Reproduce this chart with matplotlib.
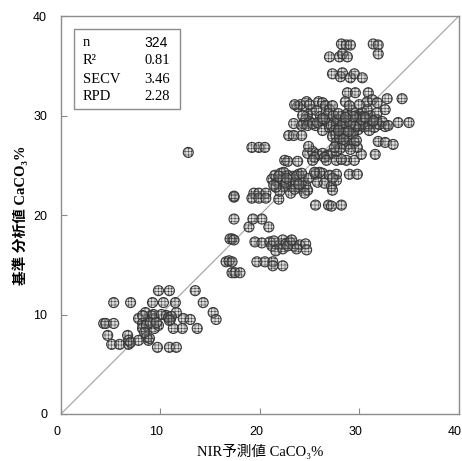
import matplotlib
matplotlib.use("Agg")
import matplotlib.pyplot as plt
from matplotlib.patches import Rectangle
from matplotlib.transforms import ScaledTranslation

plt.rcParams['font.family'] = ['Liberation Serif', 'Noto Sans CJK JP', 'DejaVu Sans']
plt.rcParams['hatch.color'] = '#a8a8a8'
plt.rcParams['hatch.linewidth'] = 0.35

# NIR predicted vs. reference CaCO3 (%), read cluster by cluster
low_x = [4.3, 4.5, 5.3, 4.7, 5.1, 5.9, 6.8, 6.7, 6.8, 7.0,
         5.3, 7.0, 9.2, 10.3, 11.5, 14.3, 9.8, 10.9, 13.5,
         15.3, 15.6, 9.7, 10.9, 11.6,
         7.8, 8.2, 8.2, 8.6, 7.8, 8.8, 8.9, 9.1, 9.4, 9.4, 9.8, 8.6,
         10.6, 11.0, 11.6, 11.3, 12.2, 13.7, 12.3, 13.0, 8.5, 8.2,
         9.3, 10.1, 10.8, 9.0, 11.1, 9.6, 10.9, 8.4]
low_y = [9.1, 9.1, 9.1, 7.9, 7.0, 7.0, 7.0, 7.9, 7.4, 7.2,
         11.2, 11.2, 11.2, 11.2, 11.2, 11.2, 12.4, 12.4, 12.4,
         10.2, 9.5, 6.7, 6.7, 6.7,
         9.6, 9.1, 8.6, 7.7, 7.4, 7.4, 7.6, 9.9, 9.6, 8.6, 8.9, 8.9,
         9.9, 9.5, 10.2, 8.6, 8.6, 8.6, 9.6, 9.5, 10.2, 9.9,
         10.0, 10.0, 9.7, 9.2, 9.8, 9.2, 9.4, 8.2]

mid_x = [12.8, 17.4, 17.4, 17.2, 17.0, 17.4,
         16.6, 16.9, 17.2, 17.2, 17.5, 18.0,
         18.9, 19.3, 20.2, 20.9,
         19.5, 20.2, 21.0, 21.2, 22.0, 22.3, 22.6, 23.0, 23.4, 24.0,
         24.6, 21.6, 22.3, 23.7, 24.7, 22.8, 23.2, 21.4,
         19.7, 20.5, 21.3, 21.3, 22.3,
         17.4, 19.4, 19.9, 20.6, 19.2, 19.9, 20.6, 21.9,
         25.6, 26.9, 28.2, 27.2,
         19.2, 19.9, 20.5]
mid_y = [26.3, 21.8, 19.6, 17.6, 17.6, 17.5,
         15.3, 15.4, 15.3, 14.2, 14.2, 14.2,
         18.8, 19.6, 19.6, 18.8,
         17.3, 17.2, 17.3, 16.9, 17.0, 17.5, 17.1, 17.3, 16.9, 17.0,
         17.1, 16.4, 16.6, 16.6, 16.5, 16.9, 17.5, 17.4,
         15.3, 15.3, 15.3, 14.9, 14.9,
         21.9, 22.2, 22.2, 22.2, 21.7, 21.7, 21.7, 21.6,
         21.0, 21.0, 21.0, 20.9,
         26.8, 26.8, 26.8]

band_x = [21.2, 21.5, 21.8, 22.1, 22.3, 22.5, 22.8, 23.0, 23.2, 23.4,
          23.6, 23.9, 24.1, 24.3, 24.6, 24.8, 22.0, 23.1, 24.5, 21.6,
          22.6, 23.7, 22.4, 24.9, 21.9, 23.5, 22.7, 23.9, 21.4, 24.2,
          25.6, 26.3, 27.0, 27.7, 25.8, 26.5, 27.2, 27.7, 27.3, 27.3,
          29.0, 29.8, 22.5, 22.8, 23.8,
          24.8, 25.3, 25.8, 26.3, 26.8, 27.2, 27.7, 25.5, 26.5, 25.3,
          26.7, 27.7, 28.7, 29.5, 28.2, 30.2, 31.6, 24.9, 26.0, 25.5]
band_y = [23.6, 24.0, 23.3, 24.2, 23.6, 22.9, 24.0, 23.5, 22.9, 23.9,
          23.3, 24.1, 22.7, 23.5, 23.0, 22.5, 22.4, 22.2, 22.2, 22.8,
          23.3, 23.9, 24.3, 23.7, 23.9, 22.6, 23.7, 23.1, 23.0, 24.2,
          24.1, 24.2, 24.0, 24.1, 23.3, 23.2, 22.9, 23.5, 22.5, 23.7,
          24.1, 24.1, 25.5, 25.4, 25.4,
          26.2, 26.4, 26.1, 26.2, 26.0, 26.2, 26.4, 25.8, 25.8, 25.5,
          25.5, 25.5, 25.5, 25.5, 25.6, 26.1, 26.1, 26.9, 24.3, 24.3]

upper_x = [22.9, 23.4, 24.2, 23.4, 24.4, 23.8, 24.1, 24.8, 25.2, 25.0,
           25.6, 26.2, 25.9, 26.3, 26.6, 27.0, 27.3, 25.7, 26.1, 26.9,
           27.4, 24.6, 26.5, 27.8, 24.7, 25.0, 24.3, 24.2, 24.8, 25.3,
           25.8, 26.3, 26.3, 27.0, 27.7, 23.5,
           27.2, 27.5, 27.8, 28.0, 28.2, 28.4, 28.6, 28.8, 29.0, 29.2,
           29.4, 29.5, 29.7, 29.9, 30.1, 30.3, 30.5, 30.7, 30.9, 31.1,
           31.3, 31.5, 31.7, 32.0, 32.3, 32.6, 28.1, 29.8, 30.0, 28.9,
           31.0, 30.4, 29.3, 28.5, 32.9, 31.8, 27.6, 30.8, 29.6, 28.7,
           28.3, 29.1, 30.2, 31.4, 27.9, 30.6, 29.4, 28.6,
           33.9, 35.0,
           27.3, 27.7, 28.0, 28.3, 28.5, 28.7, 29.0, 29.3, 29.5, 29.8,
           28.1, 27.5, 29.1, 28.9, 27.9, 28.4, 29.7,
           31.9, 32.6, 33.4]
upper_y = [28.0, 28.0, 28.0, 29.2, 29.2, 30.9, 31.1, 30.1, 30.6, 29.4,
           29.0, 29.5, 31.4, 31.3, 31.0, 30.6, 31.0, 30.5, 29.9, 30.2,
           30.0, 29.6, 29.6, 29.4, 31.4, 31.1, 30.0, 29.0, 29.0, 29.2,
           29.3, 29.7, 28.5, 28.8, 29.2, 31.1,
           29.0, 28.5, 29.6, 28.8, 29.9, 28.3, 29.3, 30.2, 28.7, 29.6,
           28.2, 29.1, 30.0, 28.6, 29.4, 30.3, 28.9, 29.7, 29.0, 30.0,
           29.3, 28.8, 29.6, 29.1, 29.4, 28.9, 28.0, 29.8, 29.0, 29.5,
           28.5, 29.9, 30.5, 28.6, 29.0, 30.3, 28.1, 30.6, 28.9, 27.9,
           29.1, 29.2, 29.6, 29.5, 30.2, 29.8, 29.9, 29.8,
           29.3, 29.3,
           27.9, 27.3, 27.8, 27.2, 28.3, 27.0, 27.6, 28.1, 27.3, 26.8,
           26.7, 26.8, 26.6, 28.4, 28.5, 27.6, 27.5,
           27.4, 27.3, 27.1]

top_x = [28.2, 28.7, 29.1, 31.4, 31.9, 31.9,
         27.0, 28.0, 28.3, 28.8,
         27.3, 28.1, 28.3, 29.1, 29.5, 30.3,
         28.8, 29.6, 30.9,
         28.6, 30.8, 31.3, 31.8, 32.8, 34.3, 32.6, 29.0, 30.0]
top_y = [37.2, 37.1, 37.1, 37.2, 37.1, 36.2,
         35.9, 35.9, 36.2, 35.9,
         34.2, 33.9, 34.3, 33.8, 34.2, 33.8,
         32.3, 32.3, 32.3,
         31.4, 31.4, 31.6, 31.3, 31.7, 31.7, 30.6, 31.0, 31.1]

nir = low_x + mid_x + band_x + upper_x + top_x
ref = low_y + mid_y + band_y + upper_y + top_y

stat_names = ['n', 'R²', 'SECV', 'RPD']
stat_values = ['324', '0.81', '3.46', '2.28']

fig = plt.figure(figsize=(4.62, 4.61), dpi=100)
ax = fig.add_axes([0.132, 0.102, 0.861, 0.863])

ax.plot([0, 40], [0, 40], color='#a0a0a0', lw=0.8, zorder=1)
ax.scatter(nir, ref, s=52, facecolors=(0.62, 0.62, 0.62, 0.38),
           edgecolors='#383838', linewidths=0.8, hatch='+++++', zorder=2)

ax.set_xlim(0, 40)
ax.set_ylim(0, 40)
ax.set_xticks([0, 10, 20, 30, 40])
ax.set_yticks([0, 10, 20, 30, 40])
for sp in ax.spines.values():
    sp.set_color('#8c8c8c')
    sp.set_linewidth(1.0)
ax.tick_params(direction='in', length=4, color='#8c8c8c', labelsize=9)
ax.tick_params(axis='x', pad=9)
ax.tick_params(axis='y', pad=10)
shift = ScaledTranslation(-4 / 100, 0, fig.dpi_scale_trans)
for lab in ax.get_xticklabels():
    lab.set_fontfamily(['Liberation Sans', 'DejaVu Sans'])
    lab.set_transform(lab.get_transform() + shift)
for lab in ax.get_yticklabels():
    lab.set_fontfamily(['Liberation Sans', 'DejaVu Sans'])

ax.set_xlabel('NIR予測値 CaCO₃%', fontsize=10.5, labelpad=4)
ax.set_ylabel('基準 分析値 CaCO₃%', fontsize=10.5, fontweight='bold', labelpad=4)

# statistics box in the upper left corner
ax.add_patch(Rectangle((1.3, 30.65), 10.7, 8.05, fill=False,
                       edgecolor='#8c8c8c', lw=1.0, zorder=3))
rows_y = [37.3, 35.5, 33.6, 31.9]
for name, val, y in zip(stat_names, stat_values, rows_y):
    ax.text(2.2, y, name, fontsize=10.5, va='center', ha='left')
    if name == 'n':
        ax.text(8.35, y, val, fontsize=10, va='center', ha='left',
                family=['Liberation Sans', 'DejaVu Sans'])
    else:
        ax.text(8.35, y, val, fontsize=10.5, va='center', ha='left')

fig.savefig('out.png', dpi=100)
